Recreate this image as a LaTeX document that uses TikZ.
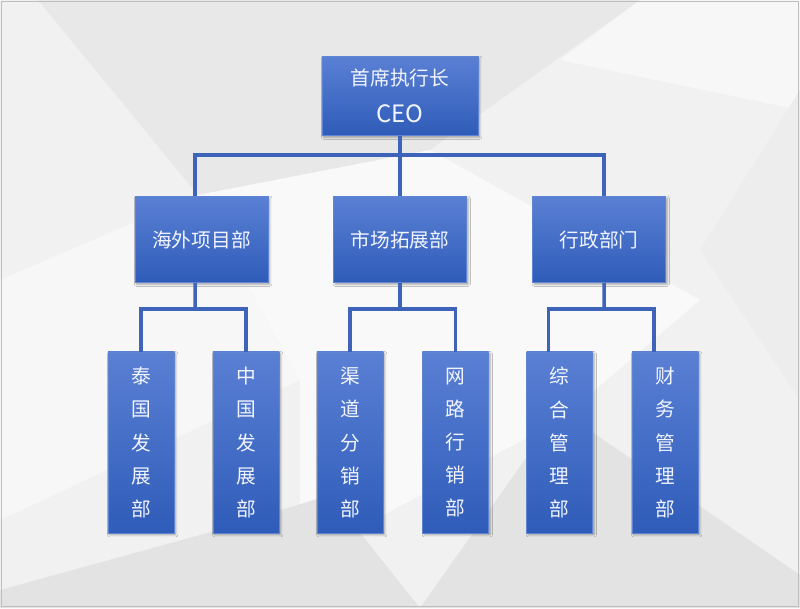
\documentclass[tikz,border=0pt]{standalone}
\usepackage{fontspec}
\setmainfont{Noto Sans CJK SC}
\usetikzlibrary{positioning, calc, backgrounds, shadows.blur}
\definecolor{paper}{HTML}{F1F1F1}
\definecolor{facetdark}{HTML}{E3E3E3}
\definecolor{facetmid}{HTML}{E8E8E8}
\definecolor{facetlight}{HTML}{F7F7F7}
\definecolor{frame}{HTML}{BDBDBD}
\definecolor{boxtop}{HTML}{5A80D4}
\definecolor{boxbot}{HTML}{2F5CB9}
\definecolor{boxedge}{HTML}{5F84D2}
\definecolor{linkblue}{HTML}{3D64B9}
\definecolor{boxtext}{HTML}{F2F5FF}
\tikzset{
  %
  box/.style={
    draw=boxedge, line width=0.6pt, top color=boxtop, bottom color=boxbot,
    text=boxtext, align=center, inner sep=0pt,
    blur shadow={shadow xshift=1.2pt, shadow yshift=-1.2pt,
                 shadow blur radius=1.5pt, shadow opacity=35},
  },
  boxceo/.style={box, minimum width=3.9cm, minimum height=1.975cm,
                 font=\fontsize{14}{26}\selectfont},
  boxdept/.style={box, minimum width=3.325cm, minimum height=2.15cm,
                  font=\fontsize{14}{26}\selectfont},
  boxleaf/.style={box, minimum width=1.65cm, minimum height=4.525cm,
                  font=\fontsize{14}{23.5}\selectfont},
  %
  link/.style={draw=linkblue, line width=2.5pt},
  facet/.style={draw=none},
}

\begin{document}
\begin{tikzpicture}[x=0.025cm, y=-0.025cm]

  \useasboundingbox (0,0) rectangle (800,608);

  % background facets
  \fill[paper] (0,0) rectangle (800,608);
  \fill[facet, facetmid] (38,0) -- (640,0) -- (430,150) -- (198,195) -- cycle;
  \fill[facet, facetlight] (640,0) -- (800,0) -- (800,110) -- (560,60) -- cycle;
  \fill[facet, facetlight] (0,280) -- (198,195) -- (300,380) -- (0,520) -- cycle;
  \fill[facet, white!60!paper] (198,195) -- (430,150) -- (700,300) -- (560,420)
    -- (300,560) -- (300,380) -- cycle;
  \fill[facet, paper!60!facetmid] (800,90) -- (800,400) -- (700,250) -- cycle;
  \fill[facet, facetdark] (0,590) -- (200,535) -- (330,495) -- (420,608) -- (0,608) -- cycle;
  \fill[facet, facetdark] (560,410) -- (800,575) -- (800,608) -- (420,608) -- cycle;
  \draw[frame, line width=0.8pt] (1.5,1.5) rectangle (798.5,606.5);

  % top
  \node[boxceo] (ceo) at (400,96)
    {首席执行长\\{\fontsize{17}{26}\selectfont CEO}};

  % departments
  \node[boxdept] (hw) at (201.5,239.5) {海外项目部};
  \node[boxdept] (sc) at (400,239.5) {市场拓展部};
  \node[boxdept] (xz) at (599,239.5) {行政部门};

  % sections
  \node[boxleaf] (tg) at (141,442.5) {泰\\国\\发\\展\\部};
  \node[boxleaf] (zg) at (246,442.5) {中\\国\\发\\展\\部};
  \node[boxleaf] (qd) at (350,442.5) {渠\\道\\分\\销\\部};
  \node[boxleaf] (wl) at (455.5,442.5) {网\\路\\行\\销\\部};
  \node[boxleaf] (zh) at (559.5,442.5) {综\\合\\管\\理\\部};
  \node[boxleaf] (cw) at (665,442.5) {财\\务\\管\\理\\部};

  \coordinate (b0) at (400,155);
  \coordinate (b1) at (195,309);
  \coordinate (b2) at (400,309);
  \coordinate (b3) at (604,309);

  \draw[link] (ceo.south) -- (b0);
  \draw[link] (b0) -- (sc.north);
  \draw[link] ([xshift=-1.6mm]hw.north) |- (b0) -| ([xshift=1.25mm]xz.north);

  \draw[link] ([xshift=-1.6mm]hw.south) -- (b1);
  \draw[link] (tg.north) |- (b1) -| (zg.north);
  \draw[link] (sc.south) -- (b2);
  \draw[link] (qd.north) |- (b2) -| (wl.north);
  \draw[link] ([xshift=1.25mm]xz.south) -- (b3);
  \draw[link] ([xshift=-2.75mm]zh.north) |- (b3) -| ([xshift=-2.75mm]cw.north);

\end{tikzpicture}
\end{document}
